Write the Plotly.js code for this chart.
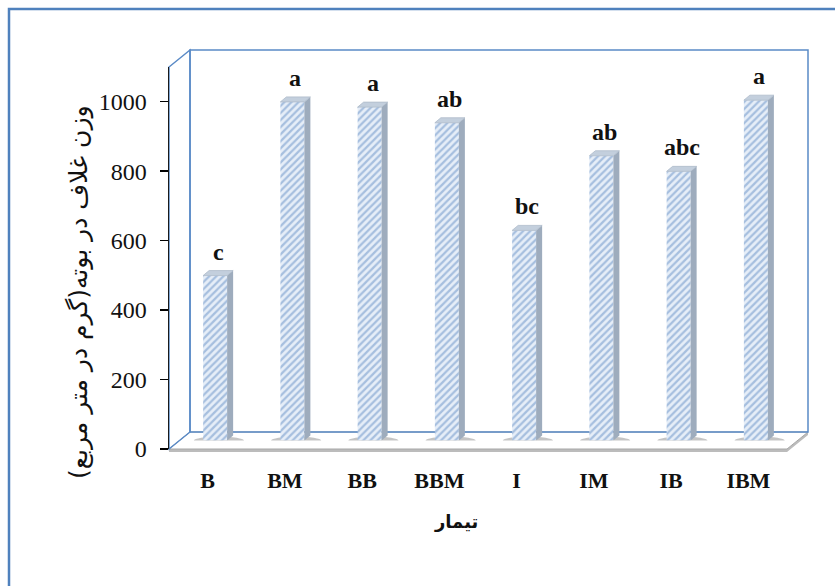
<!DOCTYPE html>
<html>
<head>
<meta charset="utf-8">
<script src="https://cdn.plot.ly/plotly-3.0.1.min.js"></script>
<style>
  html, body { margin: 0; padding: 0; background: #ffffff; }
  #chart { width: 835px; height: 586px; }
</style>
</head>
<body>
<div id="chart"></div>
<script>
// Treatments and pod weight per plant (g per square metre)
const categories = ['B', 'BM', 'BB', 'BBM', 'I', 'IM', 'IB', 'IBM'];
const podWeight = [475, 975, 960, 915, 605, 820, 775, 980];
const groupLetters = ['c', 'a', 'a', 'ab', 'bc', 'ab', 'abc', 'a'];
const yTicks = [0, 200, 400, 600, 800, 1000];
const yTitle = 'وزن غلاف در بوته(گرم در متر مربع)';
const xTitle = 'تیمار';

const W = 835, H = 586;
const px = v => v / W;          // pixel -> paper x
const py = v => 1 - v / H;      // pixel -> paper y

// 3D box geometry (front plane, depth offset)
const FX0 = 169, FX1 = 787, FY0 = 449, FY1 = 67;
const DX = 21, DY = 17;
const BLUE = '#5a8ac6';

const idx = categories.map((_, i) => i);

// bar geometry in category units on the mid-depth axes
const catPx = (FX1 - FX0) / categories.length;
const barW = 24 / catPx;
const barShift = -3 / catPx;
const sideDx = 6 / catPx;
const yPerPx = 1100 / (FY0 - FY1);
const sideDy = 5 * yPerPx;

const shapes = [];

// outer frame
shapes.push({type: 'rect', xref: 'paper', yref: 'paper', layer: 'below',
  x0: px(9), x1: px(860), y0: py(9), y1: py(620),
  line: {color: '#4f81bd', width: 2.5}, fillcolor: 'rgba(0,0,0,0)'});

// floor slab (thickness)
shapes.push({type: 'path', xref: 'paper', yref: 'paper', layer: 'below',
  path: `M${px(FX0)},${py(FY0)} L${px(FX1)},${py(FY0)} L${px(FX1 + DX)},${py(FY0 - DY)} L${px(FX1 + DX)},${py(FY0 - DY + 3)} L${px(FX1)},${py(FY0 + 3)} L${px(FX0)},${py(FY0 + 3)} Z`,
  fillcolor: '#bcbcbc', line: {width: 0}});
// floor top
shapes.push({type: 'path', xref: 'paper', yref: 'paper', layer: 'below',
  path: `M${px(FX0)},${py(FY0)} L${px(FX1)},${py(FY0)} L${px(FX1 + DX)},${py(FY0 - DY)} L${px(FX0 + DX)},${py(FY0 - DY)} Z`,
  fillcolor: '#ffffff', line: {color: '#a6a6a6', width: 1}});

// back wall
shapes.push({type: 'rect', xref: 'paper', yref: 'paper', layer: 'below',
  x0: px(FX0 + DX), x1: px(FX1 + DX), y0: py(FY0 - DY), y1: py(FY1 - DY),
  line: {color: BLUE, width: 1.5}, fillcolor: 'rgba(0,0,0,0)'});

// side wall
shapes.push({type: 'path', xref: 'paper', yref: 'paper', layer: 'below',
  path: `M${px(FX0)},${py(FY0)} L${px(FX0)},${py(FY1)} L${px(FX0 + DX)},${py(FY1 - DY)} L${px(FX0 + DX)},${py(FY0 - DY)} Z`,
  line: {color: BLUE, width: 1.5}, fillcolor: 'rgba(0,0,0,0)'});

// shadows, side faces and caps of the bars
idx.forEach(i => {
  const v = podWeight[i];
  const xl = i + barShift - barW / 2;
  const xr = i + barShift + barW / 2;
  shapes.push({type: 'circle', xref: 'x2', yref: 'y2', layer: 'below',
    x0: xl - 0.12, x1: xr + sideDx + 0.14, y0: -14, y1: 12,
    fillcolor: 'rgba(110,110,110,0.4)', line: {width: 0}});
  shapes.push({type: 'path', xref: 'x2', yref: 'y2',
    path: `M${xr},0 L${xr + sideDx},${sideDy} L${xr + sideDx},${v + sideDy} L${xr},${v} Z`,
    fillcolor: '#9eacbd', line: {width: 0}});
  shapes.push({type: 'path', xref: 'x2', yref: 'y2',
    path: `M${xl},${v} L${xl + sideDx},${v + sideDy} L${xr + sideDx},${v + sideDy} L${xr},${v} Z`,
    fillcolor: '#c3cfdd', line: {color: '#aebbca', width: 0.8}});
});

const annotations = [];
groupLetters.forEach((t, i) => {
  annotations.push({xref: 'x2', yref: 'y2', x: i, y: podWeight[i],
    text: t, showarrow: false, yanchor: 'bottom', yshift: 9,
    font: {family: 'Liberation Serif, Times New Roman, serif', size: 24, color: '#111111', weight: 'bold'}});
});
annotations.push({xref: 'paper', yref: 'paper', x: px(79), y: py(292),
  text: yTitle, textangle: -90, showarrow: false, xanchor: 'center', yanchor: 'middle',
  font: {family: 'DejaVu Sans', size: 25, color: '#111111'}});
annotations.push({xref: 'paper', yref: 'paper', x: px(456), y: py(521),
  text: '<b>' + xTitle + '</b>', showarrow: false, xanchor: 'center', yanchor: 'middle',
  font: {family: 'DejaVu Sans', size: 18, color: '#111111'}});

const traces = [
  // anchor trace for the front axes
  {type: 'scatter', x: idx, y: podWeight, xaxis: 'x', yaxis: 'y', mode: 'markers',
   marker: {opacity: 0}, hoverinfo: 'skip', showlegend: false},
  // front faces of the bars
  {type: 'bar', x: idx, y: podWeight, xaxis: 'x2', yaxis: 'y2',
   width: barW, offset: barShift - barW / 2,
   marker: {color: '#e2ebf6', line: {width: 0},
            pattern: {shape: '/', fgcolor: '#a6bfdf', bgcolor: '#e6eef8', size: 5, solidity: 0.45}},
   showlegend: false, hoverinfo: 'x+y'}
];

const layout = {
  width: W, height: H,
  margin: {l: 0, r: 0, t: 0, b: 0},
  paper_bgcolor: '#ffffff', plot_bgcolor: 'rgba(0,0,0,0)',
  showlegend: false,
  xaxis: {domain: [px(FX0), px(FX1)], range: [-0.5, 7.5], anchor: 'y',
    tickvals: idx, ticktext: categories, ticks: '', showline: false, showgrid: false, zeroline: false,
    ticklabelstandoff: 16,
    tickfont: {family: 'Liberation Serif, Times New Roman, serif', size: 22, color: '#111111', weight: 'bold'}},
  yaxis: {domain: [py(FY0), py(FY1)], range: [0, 1100], anchor: 'x',
    tickvals: yTicks, ticks: 'outside', ticklen: 8, tickwidth: 1.5, tickcolor: '#000000',
    showline: true, linecolor: '#1a1a1a', linewidth: 1.5, showgrid: false, zeroline: false,
    ticklabelstandoff: 8,
    tickfont: {family: 'Liberation Serif, Times New Roman, serif', size: 24, color: '#111111'}},
  xaxis2: {domain: [px(FX0 + DX / 2), px(FX1 + DX / 2)], range: [-0.5, 7.5], anchor: 'y2', visible: false},
  yaxis2: {domain: [py(FY0 - DY / 2), py(FY1 - DY / 2)], range: [0, 1100], anchor: 'x2', visible: false},
  shapes: shapes,
  annotations: annotations
};

Plotly.newPlot('chart', traces, layout, {displayModeBar: false, staticPlot: true});
</script>
</body>
</html>
